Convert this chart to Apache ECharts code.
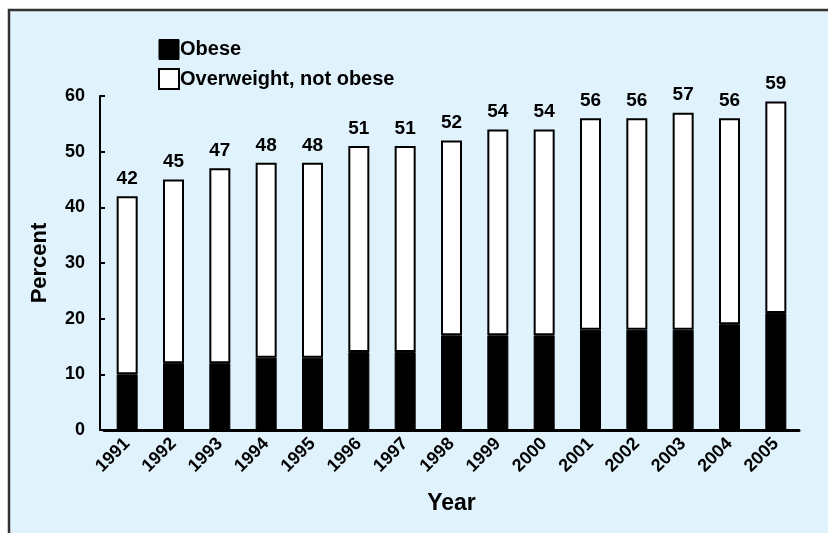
<!DOCTYPE html>
<html><head><meta charset="utf-8">
<script src="https://cdn.jsdelivr.net/npm/echarts@6/dist/echarts.min.js"></script>
<style>html,body{margin:0;padding:0;background:#fff}#c{width:828px;height:533px}</style>
</head><body><div id="c"></div>
<script>
const years = ['1991','1992','1993','1994','1995','1996','1997','1998','1999','2000','2001','2002','2003','2004','2005'];
const totals = [42,45,47,48,48,51,51,52,54,54,56,56,57,56,59];
const obese = [10,12,12,13,13,14,14,17,17,17,18,18,18,19,21];
const overweight = totals.map((t,i)=>t-obese[i]);
const yTicks = [0,10,20,30,40,50,60];

const chart = echarts.init(document.getElementById('c'));
const font = 'Liberation Sans, Arial, sans-serif';
chart.setOption({
  backgroundColor:'#ffffff',
  animation:false,
  graphic:[{type:'rect',z:-10,shape:{x:9,y:10,width:840,height:540},style:{fill:'#e0f2fc',stroke:'#333',lineWidth:2.5}}],
  legend:{
    left:153, top:34, orient:'vertical', itemWidth:20, itemHeight:20, itemGap:8, icon:'rect',
    textStyle:{fontFamily:font,fontWeight:'bold',fontSize:20,color:'#000',padding:[0,0,0,-4]},
    data:[{name:'Obese',itemStyle:{color:'#000',borderColor:'#000',borderWidth:1}},
          {name:'Overweight, not obese',itemStyle:{color:'#fff',borderColor:'#000',borderWidth:2}}]
  },
  grid:{left:104,right:29,top:96,bottom:103},
  xAxis:{type:'category',data:years,
    axisLine:{lineStyle:{color:'#000',width:3}},axisTick:{show:false},
    axisLabel:{rotate:45,fontFamily:font,fontWeight:'bold',fontSize:18,color:'#000',margin:11},
    name:'Year',nameLocation:'middle',nameGap:62,
    nameTextStyle:{fontFamily:font,fontWeight:'bold',fontSize:23,color:'#000'}},
  yAxis:{type:'value',min:0,max:60,interval:10,offset:4,
    axisLine:{show:true,lineStyle:{color:'#000',width:2}},
    axisTick:{show:true,inside:true,length:5,lineStyle:{color:'#000',width:2}},
    splitLine:{show:false},
    axisLabel:{fontFamily:font,fontWeight:'bold',fontSize:18,color:'#000',margin:15,
      formatter:v=>yTicks.includes(v)?String(v):''},
    name:'Percent',nameLocation:'middle',nameGap:49,
    nameTextStyle:{fontFamily:font,fontWeight:'bold',fontSize:22,color:'#000'}},
  series:[
    {name:'Obese',type:'bar',stack:'a',data:obese,barWidth:21,
      itemStyle:{color:'#000',borderColor:'#000',borderWidth:1}},
    {name:'Overweight, not obese',type:'bar',stack:'a',data:overweight,barWidth:21,
      itemStyle:{color:'#fff',borderColor:'#000',borderWidth:2},
      label:{show:true,position:'top',distance:8,fontFamily:font,fontWeight:'bold',fontSize:19,color:'#000',
        formatter:p=>String(totals[p.dataIndex])}}
  ]
});
</script></body></html>
